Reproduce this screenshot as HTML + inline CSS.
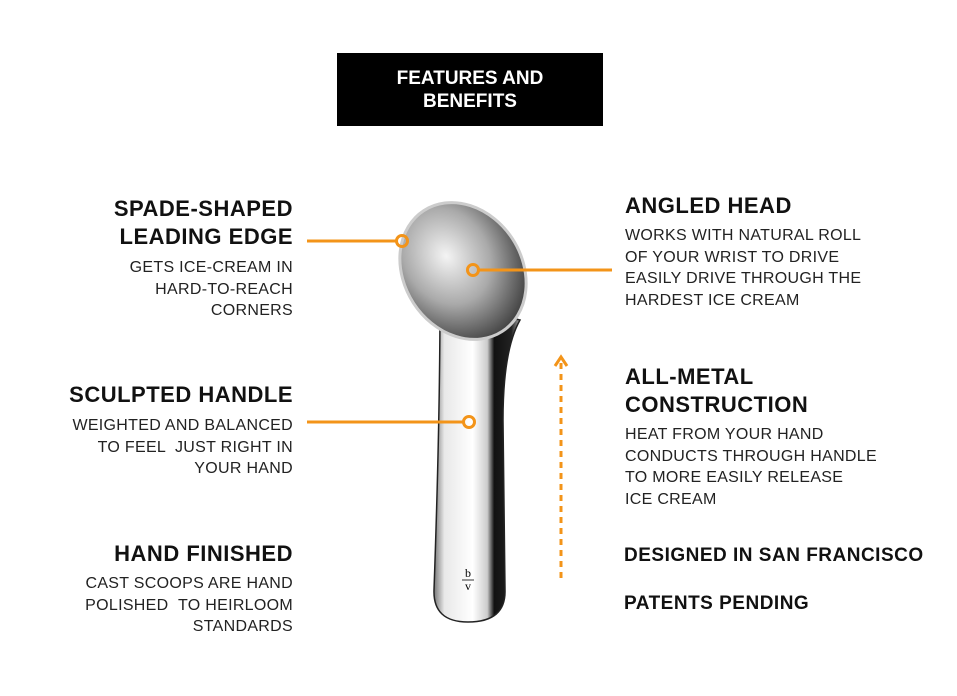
<!DOCTYPE html>
<html><head><style>
body{margin:0;width:957px;height:696px;background:#fff;position:relative;overflow:hidden;font-family:"Liberation Sans",sans-serif;color:#111}
.t{position:absolute;font-weight:bold;font-size:22px;line-height:28px;letter-spacing:0.5px}
.d{position:absolute;font-size:16px;line-height:21.5px;color:#222;letter-spacing:0.3px}
.r{text-align:right}
</style></head><body>
<div style="position:absolute;left:337px;top:53px;width:266px;height:73px;background:#000;color:#fff;font-weight:bold;font-size:19px;line-height:23px;text-align:center;padding-top:14px;box-sizing:border-box">FEATURES AND<br>BENEFITS</div>

<div class="t r" style="right:664px;top:195px">SPADE-SHAPED<br>LEADING EDGE</div>
<div class="d r" style="right:664px;top:257px">GETS ICE-CREAM IN<br>HARD-TO-REACH<br>CORNERS</div>
<div class="t r" style="right:664px;top:381px">SCULPTED HANDLE</div>
<div class="d r" style="right:664px;top:415px">WEIGHTED AND BALANCED<br>TO FEEL &nbsp;JUST RIGHT IN<br>YOUR HAND</div>
<div class="t r" style="right:664px;top:540px">HAND FINISHED</div>
<div class="d r" style="right:664px;top:573px">CAST SCOOPS ARE HAND<br>POLISHED &nbsp;TO HEIRLOOM<br>STANDARDS</div>

<div class="t" style="left:625px;top:192px">ANGLED HEAD</div>
<div class="d" style="left:625px;top:225px">WORKS WITH NATURAL ROLL<br>OF YOUR WRIST TO DRIVE<br>EASILY DRIVE THROUGH THE<br>HARDEST ICE CREAM</div>
<div class="t" style="left:625px;top:363px">ALL-METAL<br>CONSTRUCTION</div>
<div class="d" style="left:625px;top:424px">HEAT FROM YOUR HAND<br>CONDUCTS THROUGH HANDLE<br>TO MORE EASILY RELEASE<br>ICE CREAM</div>
<div class="t" style="left:624px;top:542px;font-size:19px">DESIGNED IN SAN FRANCISCO</div>
<div class="t" style="left:624px;top:590px;font-size:19px">PATENTS PENDING</div>

<svg width="957" height="696" style="position:absolute;left:0;top:0">
<defs>
<linearGradient id="h" x1="0" x2="1"><stop offset="0" stop-color="#777"/><stop offset="0.12" stop-color="#e8e8e8"/><stop offset="0.45" stop-color="#fff"/><stop offset="0.62" stop-color="#ccc"/><stop offset="0.7" stop-color="#111"/><stop offset="0.9" stop-color="#222"/><stop offset="1" stop-color="#aaa"/></linearGradient>
<radialGradient id="s" cx="0.45" cy="0.35" r="0.7"><stop offset="0" stop-color="#f4f4f4"/><stop offset="0.5" stop-color="#aaa"/><stop offset="1" stop-color="#333"/></radialGradient>
</defs>
<path d="M440 300 Q440 420 434 590 Q433 622 468 622 Q506 622 505 590 L503 420 Q503 350 520 320 Z" fill="url(#h)" stroke="#222" stroke-width="1.5"/>
<ellipse cx="463" cy="271" rx="59" ry="72" transform="rotate(-33 463 271)" fill="url(#s)" stroke="#ccc" stroke-width="3"/>
<text x="468" y="577" font-family="Liberation Serif" font-size="12" text-anchor="middle">b</text>
<line x1="462" y1="580" x2="474" y2="580" stroke="#333"/>
<text x="468" y="590" font-family="Liberation Serif" font-size="12" text-anchor="middle">v</text>
<g stroke="#f39419" stroke-width="3" fill="none">
<line x1="307" y1="241" x2="396" y2="241"/><circle cx="402" cy="241" r="5.5"/>
<line x1="479" y1="270" x2="612" y2="270"/><circle cx="473" cy="270" r="5.5"/>
<line x1="307" y1="422" x2="463" y2="422"/><circle cx="469" cy="422" r="5.5"/>
<line x1="561" y1="578" x2="561" y2="362" stroke-dasharray="6 5"/>
<polyline points="555,366 561,357 567,366"/>
</g>
</svg>
</body></html>
